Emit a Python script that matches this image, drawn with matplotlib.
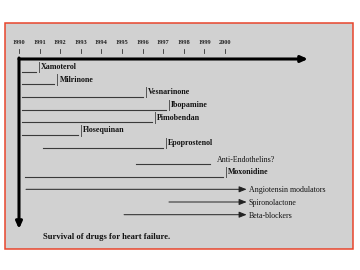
import matplotlib.pyplot as plt
from matplotlib.patches import Rectangle

# timeline data (years)
drugs = ['Xamoterol', 'Milrinone', 'Vesnarinone', 'Ibopamine', 'Pimobendan',
         'Flosequinan', 'Epoprostenol', 'Anti-Endothelins?', 'Moxonidine',
         'Angiotensin modulators', 'Spironolactone', 'Beta-blockers']
start = [1990.15, 1990.15, 1990.15, 1990.15, 1990.15, 1990.15, 1991.15,
         1995.7, 1990.28, 1990.34, 1997.28, 1995.1]
end = [1990.81, 1991.71, 1996.0, 1997.12, 1996.44, 1992.85, 1996.98,
       1999.27, 1999.89, 2001.05, 2001.05, 2001.05]
# 'stop' = ended with a bar, 'open' = no bar, 'arrow' = still in use
status = ['stop', 'stop', 'stop', 'stop', 'stop', 'stop', 'stop',
          'open', 'stop', 'arrow', 'arrow', 'arrow']
years = list(range(1990, 2001))

px_per_year = 20.6
x_left = 1990 - 19 / px_per_year
x_right = x_left + 360 / px_per_year

def px(n):
    # pixel width -> years
    return n / px_per_year

def row_y(i):
    return 71.5 + 12.7 * i + (3.5 if i >= 7 else 0)

serif = ['Liberation Serif', 'DejaVu Serif']

fig = plt.figure(figsize=(3.6, 2.7), dpi=100)
ax = fig.add_axes([0, 0, 1, 1])
ax.set_xlim(x_left, x_right)
ax.set_ylim(270, 0)
ax.axis('off')

# background panel with red frame
ax.add_patch(Rectangle((5 / 360, 21 / 270), 348 / 360, 226 / 270,
                       transform=ax.transAxes, facecolor='#d1d1d1',
                       edgecolor='#e8452c', lw=1.1))

# year scale
for yr in years:
    ax.text(yr, 42, str(yr), ha='center', va='center', fontsize=4.6,
            family=serif, fontweight='bold', color='#222222')
    ax.plot([yr, yr], [48.5, 52.5], color='#333333', lw=0.6)

# main axes arrows
ax.annotate('', xy=(1990 + px(289), 59), xytext=(1990, 59),
            arrowprops=dict(arrowstyle='-|>,head_length=0.4,head_width=0.18',
                            color='black', lw=2.2, shrinkA=0, shrinkB=0))
ax.annotate('', xy=(1990, 229), xytext=(1990, 58),
            arrowprops=dict(arrowstyle='-|>,head_length=0.4,head_width=0.18',
                            color='black', lw=2.2, shrinkA=0, shrinkB=0))

for i, name in enumerate(drugs):
    y = row_y(i)
    s, e, st = start[i], end[i], status[i]
    if st == 'arrow':
        ax.annotate('', xy=(e, y), xytext=(s, y),
                    arrowprops=dict(arrowstyle='-|>,head_length=0.45,head_width=0.18',
                                    color='#222222', lw=0.7, shrinkA=0, shrinkB=0))
        ax.text(e + px(2), y + 1, name, ha='left', va='center', fontsize=5.7,
                family=serif, color='#111111')
    else:
        ax.plot([s, e], [y, y], color='#3a3a3a', lw=0.8)
        if st == 'stop':
            bx = e + px(3)
            ax.plot([bx, bx], [y - 10, y + 0.5], color='#555555', lw=0.7)
            ax.text(bx + px(2.3), y - 4.5, name, ha='left', va='center',
                    fontsize=5.7, family=serif, fontweight='bold', color='#111111')
        else:
            ax.text(e + px(6.5), y - 4, name, ha='left', va='center',
                    fontsize=5.7, family=serif, color='#111111')

ax.text(1990 + px(88), 237, 'Survival of drugs for heart failure.', ha='center',
        va='center', fontsize=6.2, family=serif, fontweight='bold', color='#111111')

fig.savefig('out.png', dpi=100)
